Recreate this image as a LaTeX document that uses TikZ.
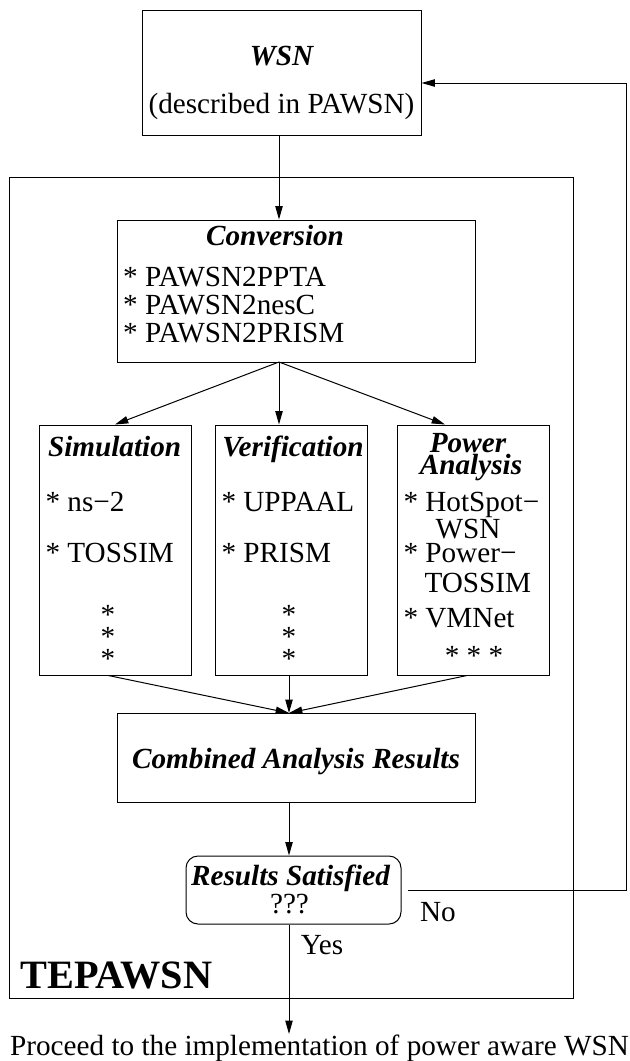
\documentclass[tikz,border=0pt]{standalone}
\usepackage{fontspec}
\setmainfont{Liberation Serif}
\usetikzlibrary{arrows.meta}
\tikzset{every picture/.style={line width=0.75pt}}
\newcommand{\bodysize}{\fontsize{21.9}{24}\selectfont}

\begin{document}
\begin{tikzpicture}[x=0.75pt,y=0.75pt,yscale=-1,xscale=1,
	box/.style={draw, rectangle, inner sep=0pt},
	txt/.style={font=\bodysize, inner sep=0pt, anchor=base},
	ttl/.style={font=\bodysize\bfseries\itshape, inner sep=0pt, anchor=base},
	dots/.style={font=\fontsize{21.9}{16.5}\selectfont, inner sep=0pt, align=center},
	arr/.style={-{Triangle[length=10pt,width=5.5pt]}}]
	\useasboundingbox (0,0) rectangle (629,1061);
	
	%Shape: Rectangle [id:wsn] 
	\node[box, minimum width=209.25pt, minimum height=93.75pt] (wsn) at (281.5,72.5) {};
	%Shape: Rectangle [id:frame] 
	\node[box, minimum width=423pt, minimum height=615.75pt] (frame) at (291,587.5) {};
	%Shape: Rectangle [id:conv] 
	\node[box, minimum width=268.5pt, minimum height=106.5pt] (conv) at (296,291) {};
	%Shape: Rectangle [id:sim] 
	\node[box, minimum width=114pt, minimum height=187.5pt] (sim) at (115,550) {};
	%Shape: Rectangle [id:ver] 
	\node[box, minimum width=114pt, minimum height=187.5pt] (ver) at (291,550) {};
	%Shape: Rectangle [id:pow] 
	\node[box, minimum width=114pt, minimum height=187.5pt] (pow) at (473,550) {};
	%Shape: Rectangle [id:cmb] 
	\node[box, minimum width=268.5pt, minimum height=66.75pt] (cmb) at (296,757.5) {};
	%Shape: Rounded Rect [id:res] 
	\node[box, rounded corners=9pt, minimum width=161.25pt, minimum height=51pt] (res) at (293.5,890) {};
	
	\coordinate (split) at (279,362);
	\coordinate (merge) at (289,713);
	\coordinate (back) at (626,83);
	
	%Straight Lines [id:wsn-conv] 
	\draw[arr] (wsn.south -| split) -- (split |- conv.north);
	%Straight Lines [id:conv-sim] 
	\draw[arr] (split) -- (sim.north);
	%Straight Lines [id:conv-ver] 
	\draw[arr] (split) -- (split |- ver.north);
	%Straight Lines [id:conv-pow] 
	\draw[arr] (split) -- ([xshift=-21pt]pow.north);
	%Straight Lines [id:sim-cmb] 
	\draw[arr] ([xshift=-5pt]sim.south) -- (merge);
	%Straight Lines [id:ver-cmb] 
	\draw[arr] (merge |- ver.south) -- (merge);
	%Straight Lines [id:pow-cmb] 
	\draw[arr] ([xshift=-4.5pt]pow.south) -- (merge);
	%Straight Lines [id:cmb-res] 
	\draw[arr] (cmb.south -| merge) -- (res.north -| merge);
	%Straight Lines [id:res-wsn] 
	\draw[arr] ([xshift=4.5pt]res.east) -| (back) -- (back -| wsn.east);
	
	% Text Node
	\node[ttl] (wsnttl) at (281.5,65) {WSN};
	% Text Node
	\node[txt] (wsndesc) at (281.5,113) {(described in PAWSN)};
	% Text Node
	\node[ttl] (convttl) at (275,245) {Conversion};
	% Text Node
	\node[txt, anchor=base west] (conva) at (122.6,286) {* PAWSN2PPTA};
	\node[txt, anchor=base west] (convb) at (122.6,314) {* PAWSN2nesC};
	\node[txt, anchor=base west] (convc) at (122.6,342) {* PAWSN2PRISM};
	
	% Text Node
	\node[ttl] (simttl) at (114.6,456) {Simulation};
	\node[txt, anchor=base west] (sima) at (45,511) {* ns−2};
	\node[txt, anchor=base west] (simb) at (45,562) {* TOSSIM};
	\node[dots] (simdots) at (108,636.5) {*\\*\\*};
	
	% Text Node
	\node[ttl] (verttl) at (293,456) {Verification};
	\node[txt, anchor=base west] (vera) at (221,511) {* UPPAAL};
	\node[txt, anchor=base west] (verb) at (221,562) {* PRISM};
	\node[dots] (verdots) at (289,636.5) {*\\*\\*};
	
	% Text Node
	\node[ttl] (powttla) at (468,452) {Power};
	\node[ttl] (powttlb) at (471,474) {Analysis};
	\node[txt, anchor=base west] (powa) at (403,511) {* HotSpot−};
	\node[txt] (powaa) at (468,538) {WSN};
	\node[txt, anchor=base west] (powb) at (403,562) {* Power−};
	\node[txt, anchor=base west] (powbb) at (424,592) {TOSSIM};
	\node[txt, anchor=base west] (powc) at (403,627) {* VMNet};
	\node[txt] (powdots) at (474,665) {* * *};
	
	% Text Node
	\node[ttl] (cmbttl) at (296,768) {Combined Analysis Results};
	% Text Node
	\node[ttl] (resttl) at (290.5,885) {Results Satisfied};
	\node[txt] (resq) at (289.5,913) {???};
	% Text Node
	\node[txt] (no) at (438,921) {No};
	\node[txt] (yes) at (322,954) {Yes};
	% Text Node
	\node[font=\fontsize{30.2}{36}\selectfont\bfseries, inner sep=0pt, anchor=base west] (tepawsn) at (20,988.5) {TEPAWSN};
	% Text Node
	\node[txt] (proceed) at (319.5,1055) {Proceed to the implementation of power aware WSN};
	
	%Straight Lines [id:res-proceed] 
	\draw[arr] (res.south -| merge) -- (proceed.north -| merge);
	
\end{tikzpicture}
\end{document}
